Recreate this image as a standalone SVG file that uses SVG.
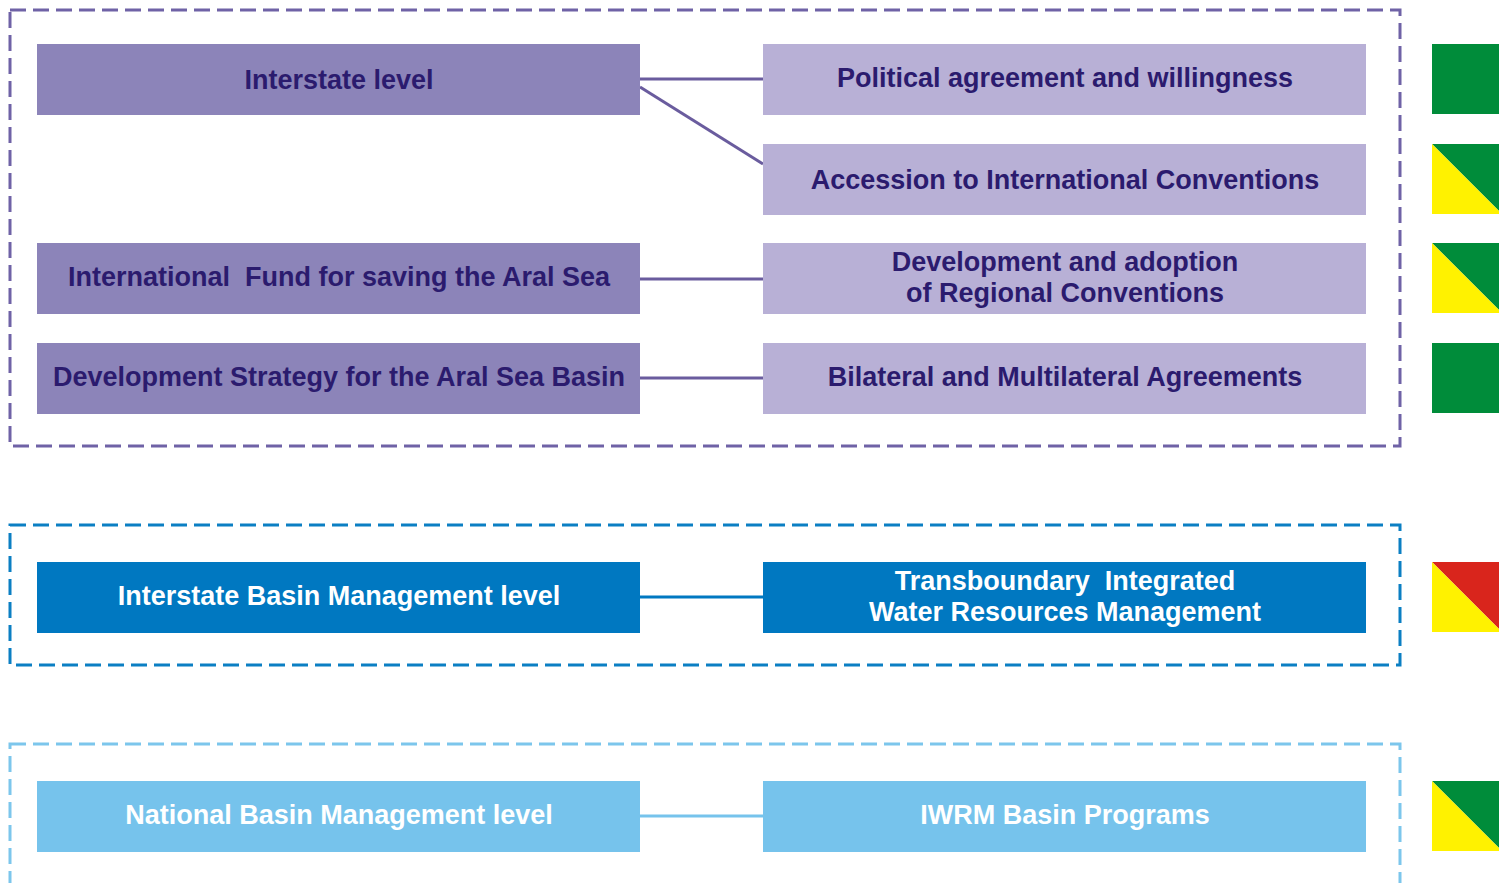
<svg xmlns="http://www.w3.org/2000/svg" width="1499" height="883" viewBox="0 0 1499 883">
<style>
.frame{fill:none;stroke-width:3;stroke-dasharray:16 7}
.lp{fill:#8c84b9}
.rp{fill:#b8b0d6}
.bl{fill:#0078c1}
.lb{fill:#76c3ec}
.t{font-family:"Liberation Sans",Arial,sans-serif;font-weight:bold;font-size:27px;text-anchor:middle;dominant-baseline:central}
.dk{fill:#2b1b6e}
.wh{fill:#ffffff}
.g{fill:#008c3a}
.y{fill:#fff200}
.r{fill:#d9251c}
</style>
<rect width="1499" height="883" fill="#ffffff"/>
<rect class="frame" x="10" y="10" width="1390" height="436" stroke="#6f62a6"/>
<rect class="frame" x="10" y="525" width="1390" height="140" stroke="#0b7fc3"/>
<rect class="frame" x="10" y="744" width="1390" height="142" stroke="#7cc6ec"/>
<g id="connectors" stroke-width="3">
<line x1="640" y1="79" x2="763" y2="79" stroke="#6a5c9e"/>
<line x1="640" y1="87" x2="763" y2="164" stroke="#6a5c9e"/>
<line x1="640" y1="279" x2="763" y2="279" stroke="#6a5c9e"/>
<line x1="640" y1="378" x2="763" y2="378" stroke="#6a5c9e"/>
<line x1="640" y1="597" x2="763" y2="597" stroke="#0078c1"/>
<line x1="640" y1="816" x2="763" y2="816" stroke="#76c3ec"/>
</g>
<g id="interstate"><rect class="lp" x="37" y="44" width="603" height="71"/><text class="t dk" x="339" y="80">Interstate level</text></g>
<g id="ifas"><rect class="lp" x="37" y="243" width="603" height="71"/><text class="t dk" x="339" y="277">International&#160; Fund for saving the Aral Sea</text></g>
<g id="strategy"><rect class="lp" x="37" y="343" width="603" height="71"/><text class="t dk" x="339" y="377">Development Strategy for the Aral Sea Basin</text></g>
<g id="political"><rect class="rp" x="763" y="44" width="603" height="71"/><text class="t dk" x="1065" y="78">Political agreement and willingness</text></g>
<g id="accession"><rect class="rp" x="763" y="144" width="603" height="71"/><text class="t dk" x="1065" y="180">Accession to International Conventions</text></g>
<g id="regional"><rect class="rp" x="763" y="243" width="603" height="71"/><text class="t dk" x="1065" y="262">Development and adoption</text><text class="t dk" x="1065" y="293">of Regional Conventions</text></g>
<g id="bilateral"><rect class="rp" x="763" y="343" width="603" height="71"/><text class="t dk" x="1065" y="377">Bilateral and Multilateral Agreements</text></g>
<g id="ibm"><rect class="bl" x="37" y="562" width="603" height="71"/><text class="t wh" x="339" y="596">Interstate Basin Management level</text></g>
<g id="tiwrm"><rect class="bl" x="763" y="562" width="603" height="71"/><text class="t wh" x="1065" y="581">Transboundary&#160; Integrated</text><text class="t wh" x="1065" y="612">Water Resources Management</text></g>
<g id="nbm"><rect class="lb" x="37" y="781" width="603" height="71"/><text class="t wh" x="339" y="815">National Basin Management level</text></g>
<g id="iwrm"><rect class="lb" x="763" y="781" width="603" height="71"/><text class="t wh" x="1065" y="815">IWRM Basin Programs</text></g>
<g id="status1"><rect class="g" x="1432" y="44" width="70" height="70"/></g>
<g id="status2"><polygon class="g" points="1432,144 1502,144 1502,214"/><polygon class="y" points="1432,144 1502,214 1432,214"/></g>
<g id="status3"><polygon class="g" points="1432,243 1502,243 1502,313"/><polygon class="y" points="1432,243 1502,313 1432,313"/></g>
<g id="status4"><rect class="g" x="1432" y="343" width="70" height="70"/></g>
<g id="status5"><polygon class="r" points="1432,562 1502,562 1502,632"/><polygon class="y" points="1432,562 1502,632 1432,632"/></g>
<g id="status6"><polygon class="g" points="1432,781 1502,781 1502,851"/><polygon class="y" points="1432,781 1502,851 1432,851"/></g>
</svg>
